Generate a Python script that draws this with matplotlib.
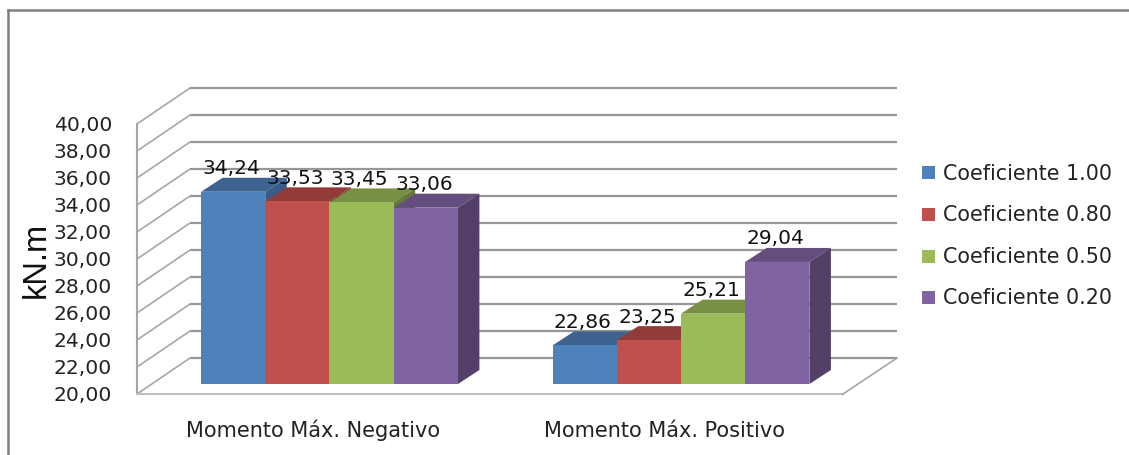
import matplotlib
matplotlib.use("Agg")
import matplotlib.pyplot as plt
from matplotlib.patches import Polygon, Rectangle
from matplotlib.lines import Line2D

categories = ["Momento Máx. Negativo", "Momento Máx. Positivo"]
series_names = ["Coeficiente 1.00", "Coeficiente 0.80", "Coeficiente 0.50", "Coeficiente 0.20"]
coef_100 = [34.24, 22.86]
coef_080 = [33.53, 23.25]
coef_050 = [33.45, 25.21]
coef_020 = [33.06, 29.04]
series_values = [coef_100, coef_080, coef_050, coef_020]
y_ticks = [20, 22, 24, 26, 28, 30, 32, 34, 36, 38, 40]

front = ["#4F81BD", "#C0504D", "#9BBB59", "#8064A2"]
top = ["#3E6390", "#923C3A", "#779043", "#634E7E"]
side = ["#3A5C88", "#7E3432", "#657A37", "#533F68"]
grid_c = "#969696"
side_c = "#A6A6A6"

W, H = 1129, 455
# scale helpers: one value unit = 13.5 px, one category = 351.5 px
PXV = 13.5
PXC = 351.5
def px_x(p):
    return (p - 329.5) / PXC
def px_dy(p):
    return p / PXV

fig = plt.figure(figsize=(W / 100, H / 100), dpi=100)
ax = fig.add_axes([0, 0, 1, 1])
ax.set_xlim(px_x(0), px_x(W))
ax.set_ylim(20 - (H - 384) / PXV, 20 + 384 / PXV)
ax.axis("off")

floor_front_left = px_x(137)
floor_front_right = px_x(843)
back_left = px_x(190)
back_right = px_x(897)
front_dy = px_dy(10)     # axis front plane lies below bar plane
back_dy = px_dy(26)      # back wall lies above bar plane

# walls and gridlines
for v in y_ticks:
    ax.plot([back_left, back_right], [v + back_dy] * 2, color=grid_c, lw=1.6,
            solid_capstyle="butt", zorder=1)
    ax.plot([floor_front_left, back_left], [v - front_dy, v + back_dy], color=side_c, lw=1.2,
            solid_capstyle="butt", zorder=1)
ax.plot([floor_front_left] * 2, [20 - front_dy, 40 - front_dy], color=side_c, lw=1.5, zorder=1)
ax.plot([floor_front_left, floor_front_right], [20 - front_dy] * 2, color="#BDBDBD", lw=1.5, zorder=1)
ax.plot([floor_front_right, back_right], [20 - front_dy, 20 + back_dy], color=side_c, lw=1.2, zorder=1)

# tick labels
for v in y_ticks:
    ax.text(px_x(112), v - front_dy - px_dy(1.5), f"{v:.2f}".replace(".", ","), ha="right", va="center",
            fontsize=14.6, color="#222222", family="DejaVu Sans", zorder=6)

# 3D bars
bw = 64.2 / PXC
depth_x = 21.5 / PXC
depth_y = px_dy(14)
n = len(series_values)
for c in range(len(categories)):
    for s, vals in enumerate(series_values):
        v = vals[c]
        x0 = c + (s - n / 2) * bw
        z = 2 + s
        ax.bar(x0, v - 20, bottom=20, width=bw, align="edge", color=front[s], lw=0, zorder=z + 0.2)
        ax.add_patch(Polygon([(x0, v), (x0 + bw, v), (x0 + bw + depth_x, v + depth_y), (x0 + depth_x, v + depth_y)],
                             closed=True, fc=top[s], ec="none", zorder=z))
        ax.add_patch(Polygon([(x0 + bw, 20), (x0 + bw + depth_x, 20 + depth_y), (x0 + bw + depth_x, v + depth_y), (x0 + bw, v)],
                             closed=True, fc=side[s], ec="none", zorder=z + 0.1))
        ax.text(x0 + bw / 2 - 2 / PXC, v + px_dy(23), f"{v:.2f}".replace(".", ","), ha="center", va="center",
                fontsize=14.5, color="#111111", family="DejaVu Sans", zorder=7)

# category labels
for c, name in enumerate(categories):
    ax.text(c - 16 / PXC, 20 - px_dy(53), name, ha="center", va="baseline",
            fontsize=15, color="#222222", family="DejaVu Sans", zorder=6)

# axis title
ax.text(px_x(36), 20 + px_dy(384 - 260), "kN.m", rotation=90, ha="center", va="center",
        fontsize=23.5, color="#111111", family="Liberation Sans", zorder=6)

# legend
leg_y = [173, 214, 256, 297]
for name, col, yp in zip(series_names, front, leg_y):
    fig.patches.append(Rectangle((922 / W, 1 - (yp + 6.5) / H), 13 / W, 13 / H,
                                 transform=fig.transFigure, fc=col, ec="none"))
    fig.text(943 / W, 1 - (yp + 1) / H, name, ha="left", va="center", fontsize=14.9,
             color="#222222", family="DejaVu Sans")

# chart frame
fig.add_artist(Line2D([7.7 / W, 7.7 / W], [0, 1 - 10 / H], color="#808080", lw=1.8))
fig.add_artist(Line2D([7.7 / W, 1], [1 - 10 / H] * 2, color="#808080", lw=1.8))

fig.savefig("out.png", dpi=100, facecolor="white")
